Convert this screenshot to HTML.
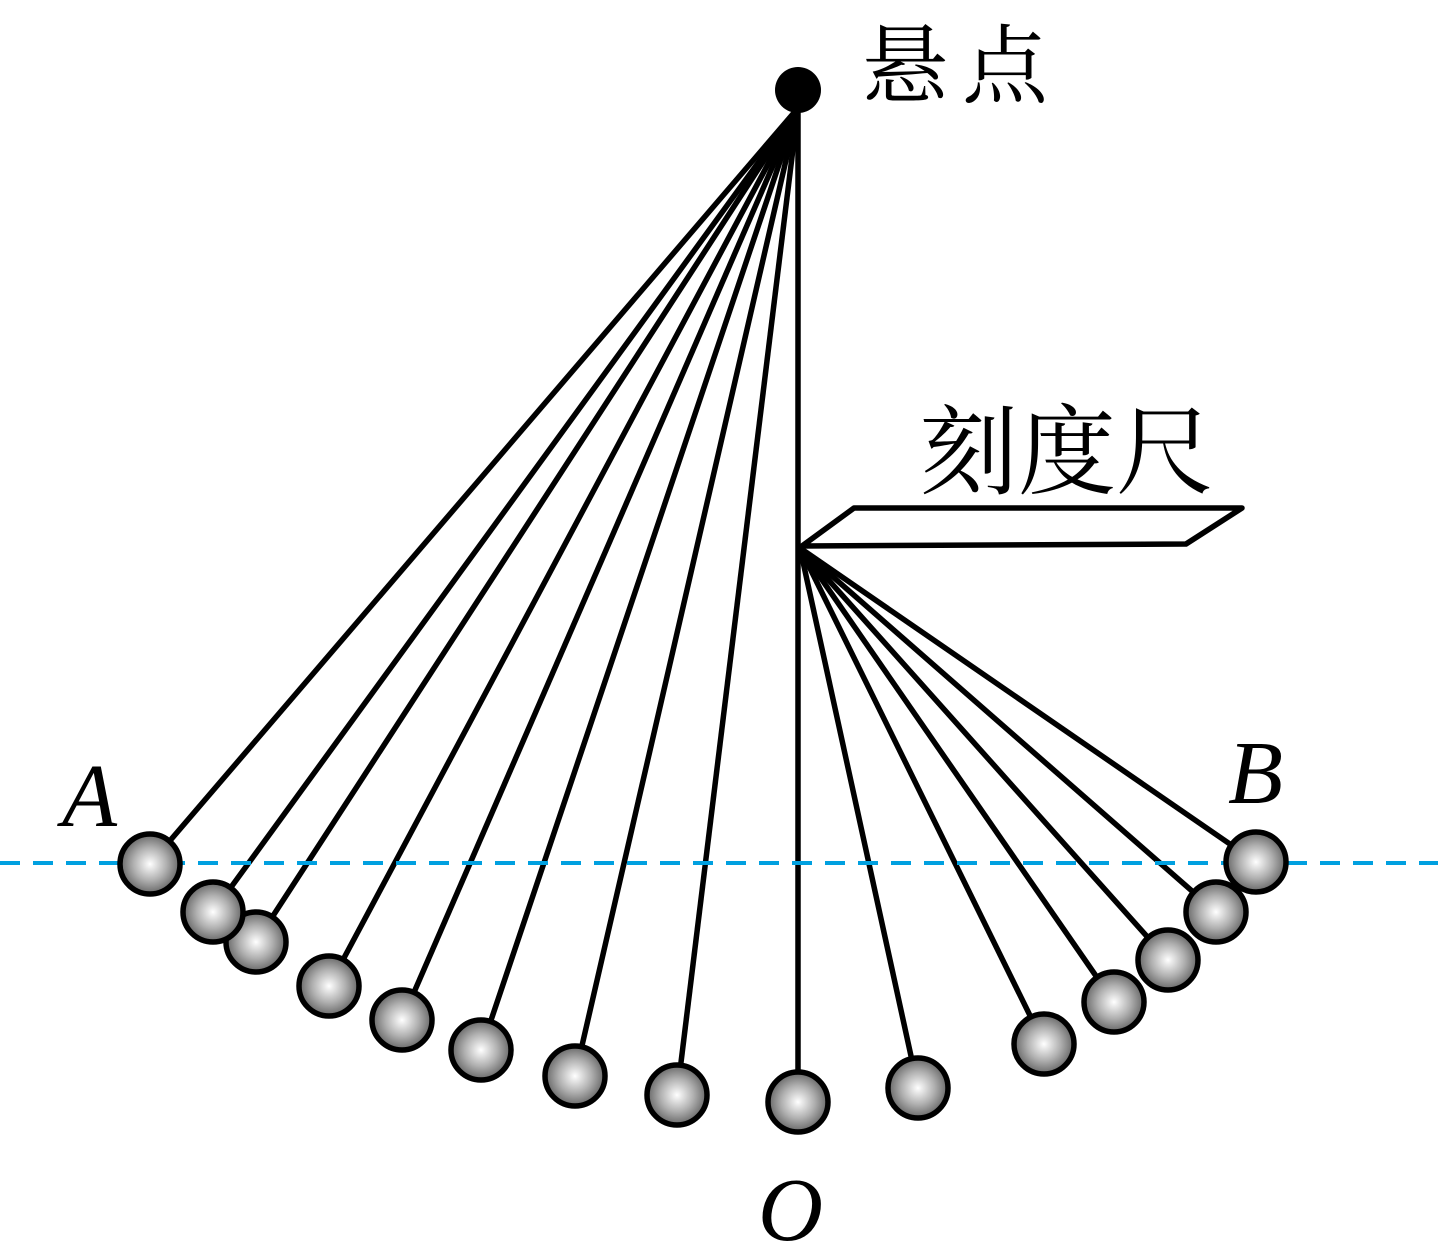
<!DOCTYPE html>
<html><head><meta charset="utf-8"><style>
html,body{margin:0;padding:0;background:#fff;}
svg{display:block;}
</style></head><body>
<svg width="1438" height="1253" viewBox="0 0 1438 1253" xmlns="http://www.w3.org/2000/svg">
<defs>
<radialGradient id="g" cx="0.5" cy="0.5" r="0.55" fx="0.5" fy="0.5">
<stop offset="0" stop-color="#ffffff"/>
<stop offset="0.5" stop-color="#b0b0b0"/>
<stop offset="1" stop-color="#555"/>
</radialGradient>
</defs>
<g stroke="#000" stroke-width="5.5" fill="none">
<line x1="798" y1="108" x2="150" y2="864"/>
<line x1="798" y1="108" x2="213" y2="912"/>
<line x1="798" y1="108" x2="256" y2="942"/>
<line x1="798" y1="108" x2="329" y2="986"/>
<line x1="798" y1="108" x2="402" y2="1020"/>
<line x1="798" y1="108" x2="481" y2="1050"/>
<line x1="798" y1="108" x2="575" y2="1076"/>
<line x1="798" y1="108" x2="677" y2="1095"/>
<line x1="798" y1="100" x2="798" y2="1102"/>
<line x1="800" y1="548" x2="918" y2="1088"/>
<line x1="800" y1="548" x2="1044" y2="1044"/>
<line x1="800" y1="548" x2="1114" y2="1002"/>
<line x1="800" y1="548" x2="1168" y2="960"/>
<line x1="800" y1="548" x2="1216" y2="912"/>
<line x1="800" y1="548" x2="1256" y2="862"/>
<polygon points="802,546 854,508 1242,508 1186,544" fill="#fff" stroke-linejoin="round"/>
</g>
<line x1="0" y1="863" x2="1438" y2="863" stroke="#00a0e0" stroke-width="4" stroke-dasharray="20,13"/>
<circle cx="798" cy="90" r="23" fill="#000"/>
<g stroke="#000" stroke-width="5.5" fill="url(#g)">
<circle cx="150" cy="864" r="30"/>
<circle cx="256" cy="942" r="30"/>
<circle cx="213" cy="912" r="30"/>
<circle cx="329" cy="986" r="30"/>
<circle cx="402" cy="1020" r="30"/>
<circle cx="481" cy="1050" r="30"/>
<circle cx="575" cy="1076" r="30"/>
<circle cx="677" cy="1095" r="30"/>
<circle cx="798" cy="1102" r="30"/>
<circle cx="918" cy="1088" r="30"/>
<circle cx="1044" cy="1044" r="30"/>
<circle cx="1114" cy="1002" r="30"/>
<circle cx="1168" cy="960" r="30"/>
<circle cx="1216" cy="912" r="30"/>
<circle cx="1256" cy="862" r="30"/>
</g>
<g font-family="'Liberation Serif','Noto Serif CJK SC',serif" fill="#000">
<text x="862" y="96" font-size="86" letter-spacing="14">悬点</text>
<text x="920" y="486" font-size="98">刻度尺</text>
<text x="62" y="826" font-size="90" font-style="italic">A</text>
<text x="1228" y="803" font-size="90" font-style="italic">B</text>
<text x="758" y="1240" font-size="90" font-style="italic">O</text>
</g>
</svg>
</body></html>
